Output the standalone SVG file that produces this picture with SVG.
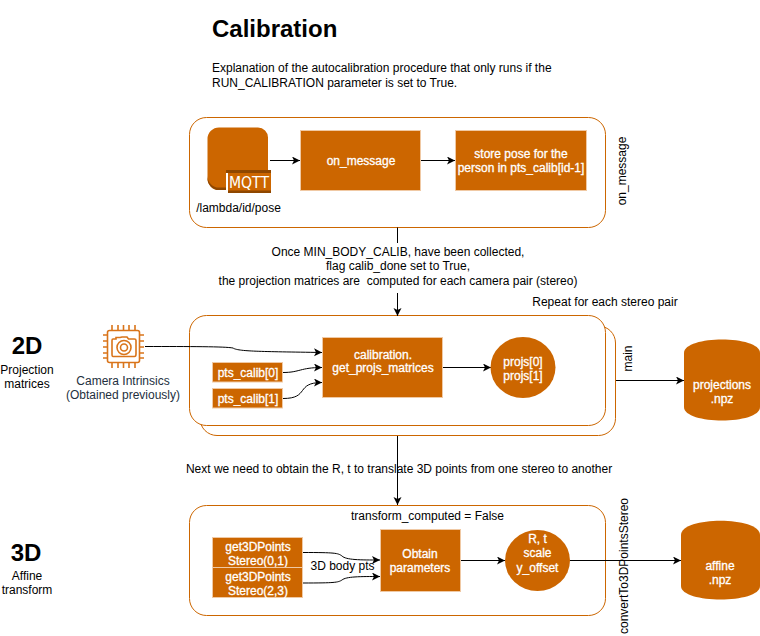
<svg xmlns="http://www.w3.org/2000/svg" width="760" height="636" viewBox="0 0 760 636">
<defs>
<marker id="arr" markerWidth="10" markerHeight="10" refX="8" refY="4" orient="auto" markerUnits="userSpaceOnUse"><path d="M0,0 L8,4 L0,8 L2,4 Z" fill="#000"/></marker>
</defs>
<style>
text{font-family:"Liberation Sans",Arial,Helvetica,sans-serif;font-size:12px;text-anchor:middle;fill:#000}
.w{fill:#fff;stroke:#fff;stroke-width:.3}
.box{fill:#cc6600;stroke:#f0c9a4;stroke-width:1}
.frame{fill:#fff;stroke:#cc6600;stroke-width:1}
.c{fill:none;stroke:#000;stroke-width:1;marker-end:url(#arr)}
.l{text-anchor:start}
.ic{fill:none;stroke:#d9741a;stroke-width:1.6}
</style>
<rect width="760" height="636" fill="#fff"/>
<g id="title">
<text x="212" y="37" class="l" style="font-size:24px;font-weight:bold">Calibration</text>
<text x="212" y="72" class="l">Explanation of the autocalibration procedure that only runs if the</text>
<text x="212" y="87" class="l">RUN_CALIBRATION parameter is set to True.</text>
</g>
<g id="frame-on-message"><rect class="frame" x="189.5" y="117.5" width="416" height="110" rx="17"/></g>
<g id="frame-main-back"><rect class="frame" x="200" y="326" width="415.5" height="109.5" rx="17"/></g>
<g id="frame-main"><rect class="frame" x="189.5" y="315.5" width="416" height="110" rx="17"/></g>
<g id="frame-transform"><rect class="frame" x="189.5" y="505.5" width="416" height="110" rx="17"/></g>
<g id="connectors">
<path class="c" d="M270,160.500H300"/>
<path class="c" d="M421,160.500H455"/>
<path d="M397.500,227.500V243" fill="none" stroke="#000"/>
<path class="c" d="M145,346.500C190,346.500 225,346.500 233,348C238,351.500 260,351.500 322,352.500"/>
<path class="c" d="M283,372.500C300,372.500 300,367.500 322,367.500"/>
<path class="c" d="M283,398.500C310,398.500 295,382.500 322,382.500"/>
<path class="c" d="M443,367.500H491"/>
<path class="c" d="M616,380.500H684"/>
<path class="c" d="M397.500,293V316"/>
<path class="c" d="M397.500,436V505"/>
<path class="c" d="M303,552.500C335,552.500 338,553 342,556C346,560 360,560 380,560"/>
<path class="c" d="M303,583C335,583 338,582.500 342,580C346,576.500 360,576.500 380,576.500"/>
<path class="c" d="M461,560.500H505"/>
<path class="c" d="M570,560.500H681"/>
</g>
<g id="mqtt">
<path d="M219,127.500H258A10,10 0 0 1 268,137.500V190H219A11.500,11.500 0 0 1 207.500,178.500V139A11.500,11.500 0 0 1 219,127.500Z" fill="#cc6600"/>
<path d="M207.500,176A11.500,11.500 0 0 0 219,187.500H226V190H219A11.500,11.500 0 0 1 207.500,178.500Z" fill="#8f4700"/>
<rect x="226" y="170" width="45" height="23" fill="#cc6600"/>
<rect x="226" y="170" width="45" height="3" fill="#8f4700"/>
<rect x="228" y="190.500" width="43" height="2.500" fill="#8f4700"/>
<rect x="226" y="173" width="2" height="20" fill="#fff"/>
<text x="249" y="187.500" class="w" style="font-family:'DejaVu Sans',sans-serif;font-size:15px;stroke-width:0" textLength="40" lengthAdjust="spacingAndGlyphs">MQTT</text>
<text x="238.500" y="212">/lambda/id/pose</text>
</g>
<g id="on-message"><rect class="box" x="300.500" y="130.500" width="120" height="60"/><text x="361" y="165" class="w">on_message</text></g>
<g id="store"><rect class="box" x="455.500" y="130.500" width="131" height="60"/><text x="521" y="158" class="w">store pose for the</text><text x="521" y="172" class="w">person in pts_calib[id-1]</text></g>
<g id="label-on-message"><text transform="translate(626,171) rotate(-90)">on_message</text></g>
<g id="label-once">
<text x="398" y="256">Once MIN_BODY_CALIB, have been collected,</text>
<text x="398" y="270">flag calib_done set to True,</text>
<text x="398" y="285" xml:space="preserve">the projection matrices are  computed for each camera pair (stereo)</text>
<text x="605" y="306">Repeat for each stereo pair</text>
</g>
<g id="side-2d">
<text x="27" y="354" style="font-size:24px;font-weight:bold">2D</text>
<text x="27" y="374">Projection</text>
<text x="27" y="388">matrices</text>
</g>
<g id="camera">
<rect class="ic" x="107.500" y="330.500" width="32" height="32" rx="2"/>
<path class="ic" d="M103,335H107M103,341H107M103,347H107M103,353H107M103,358H107M140,335H144M140,341H144M140,347H144M140,353H144M140,358H144M112,325V330M118,325V330M123.500,325V330M129,325V330M135,325V330M112,363V368M118,363V368M123.500,363V368M129,363V368M135,363V368" stroke-width="1.200"/>
<path class="ic" d="M113,339H116V337.500H120L122,337H127L128.500,339H134.500Q136,339 136,340.500V354Q136,356.500 134.500,356.500H113Q112,356.500 112,354V340.500Q112,339 113,339Z"/>
<circle class="ic" cx="124" cy="347.500" r="7"/><circle class="ic" cx="124" cy="347.500" r="3.500"/>
<text x="123" y="385" style="fill:#232f3e">Camera Intrinsics</text>
<text x="123" y="399" style="fill:#232f3e">(Obtained previously)</text>
</g>
<g id="pts0"><rect class="box" x="212.500" y="362.500" width="70" height="19.500"/><text x="248" y="377" class="w">pts_calib[0]</text></g>
<g id="pts1"><rect class="box" x="212.500" y="388.500" width="70" height="19.500"/><text x="248" y="403" class="w">pts_calib[1]</text></g>
<g id="calib"><rect class="box" x="322.500" y="337.500" width="120" height="60"/><text x="383" y="359" class="w">calibration.</text><text x="383" y="372" class="w">get_projs_matrices</text></g>
<g id="projs"><ellipse cx="523" cy="367.500" rx="32.500" ry="30.500" fill="#cc6600"/><text x="523" y="366" class="w">projs[0]</text><text x="523" y="380" class="w">projs[1]</text></g>
<g id="label-main"><text transform="translate(632,358.500) rotate(-90)">main</text></g>
<g id="projections"><path d="M684,353C684,335 760,335 760,353V407C760,425 684,425 684,407Z" fill="#cc6600"/><text x="722" y="389" class="w">projections</text><text x="722" y="403" class="w">.npz</text></g>
<g id="label-next"><text x="399" y="473">Next we need to obtain the R, t to translate 3D points from one stereo to another</text></g>
<g id="side-3d">
<text x="26" y="561" style="font-size:24px;font-weight:bold">3D</text>
<text x="27" y="580">Affine</text>
<text x="27" y="594">transform</text>
</g>
<text x="427.500" y="520">transform_computed = False</text>
<g id="get01"><rect class="box" x="212.500" y="537.500" width="90" height="30"/><text x="258" y="551" class="w">get3DPoints</text><text x="258" y="564.500" class="w">Stereo(0,1)</text></g>
<g id="get23"><rect class="box" x="212.500" y="567.500" width="90" height="30"/><text x="258" y="580.500" class="w">get3DPoints</text><text x="258" y="594.500" class="w">Stereo(2,3)</text></g>
<text x="342.500" y="570">3D body pts</text>
<g id="obtain"><rect class="box" x="380.500" y="529.500" width="80" height="62"/><text x="420" y="558" class="w">Obtain</text><text x="420" y="572" class="w">parameters</text></g>
<g id="rt"><ellipse cx="537.500" cy="560.500" rx="32.500" ry="30.500" fill="#cc6600"/><text x="537.500" y="543" class="w">R, t</text><text x="537.500" y="557" class="w">scale</text><text x="537.500" y="572" class="w">y_offset</text></g>
<g id="label-convert"><text transform="translate(628,566) rotate(-90)">convertTo3DPointsStereo</text></g>
<g id="affine"><path d="M681,535C681,516 760,516 760,535V586C760,604 681,604 681,586Z" fill="#cc6600"/><text x="720" y="570" class="w">affine</text><text x="720" y="584" class="w">.npz</text></g>
</svg>
